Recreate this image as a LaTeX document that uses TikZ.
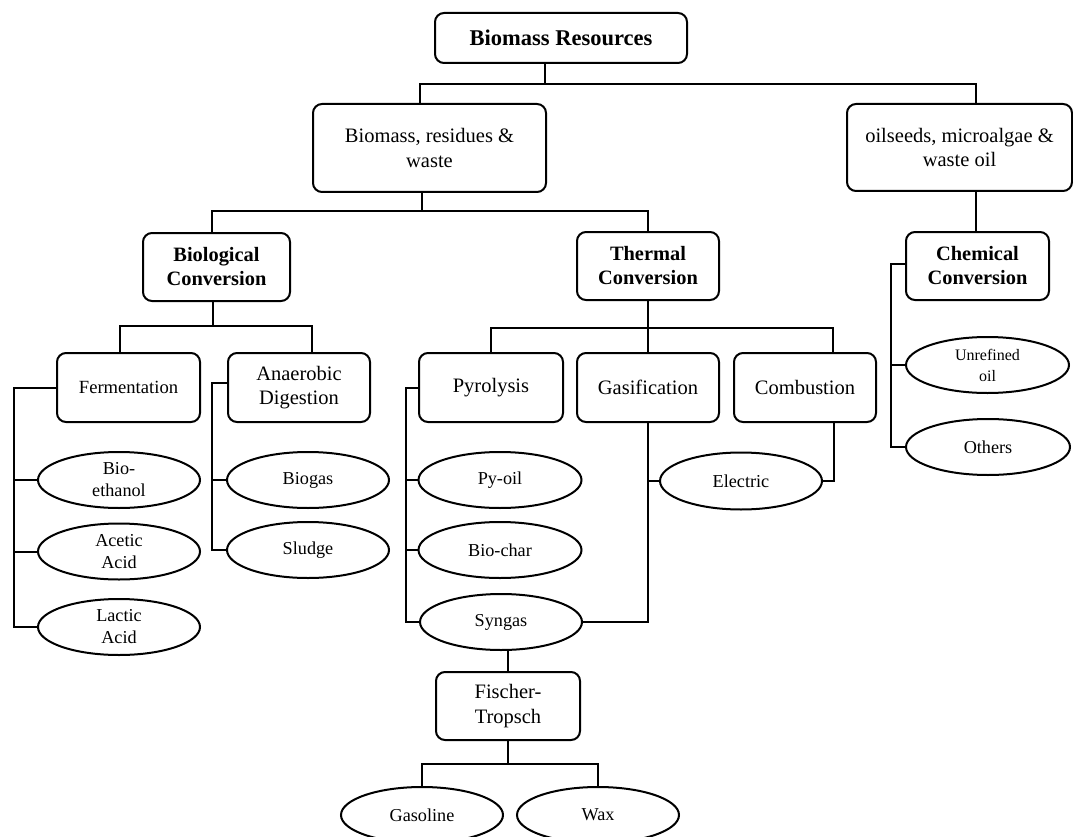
\documentclass[tikz,border=0pt]{standalone}
\usepackage{fontspec}
\setmainfont{Liberation Serif}
\usetikzlibrary{shapes.geometric}
% font sizes used in the chart
\newcommand\txttitle{\fontsize{22.5}{27}\selectfont\bfseries}
\newcommand\txtbig{\fontsize{20.5}{24.5}\selectfont}
\newcommand\txthead{\fontsize{20.4}{24}\selectfont\bfseries}
\newcommand\txtmid{\fontsize{18.6}{22}\selectfont}
\newcommand\txtoval{\fontsize{18.2}{22}\selectfont}
\newcommand\txtsmall{\fontsize{16}{21}\selectfont}
\begin{document}
\begin{tikzpicture}[x=1pt,y=-1pt,line width=2pt,
  box/.style={draw,rounded corners=9pt,inner sep=0pt,align=center,
    minimum width=142pt,minimum height=69pt,font=\txtbig},
  oval/.style={draw,ellipse,inner sep=0pt,align=center,
    minimum width=162pt,minimum height=56pt,font=\txtoval}]
\useasboundingbox (0,0) rectangle (1073,837);

% --- boxes ---
\node[box,minimum width=252pt,minimum height=50pt,font=\txttitle] (res) at (561,38) {Biomass Resources};
\node[box,minimum width=233pt,minimum height=88pt] (brw) at (429.5,148) {Biomass, residues \&\\waste};
\node[box,minimum width=225pt,minimum height=87pt] (oil) at (959.5,147.5) {oilseeds, microalgae \&\\waste oil};
\node[box,minimum width=147pt,minimum height=68pt,font=\txthead] (bio) at (216.5,267) {Biological\\Conversion};
\node[box,minimum height=68pt,font=\txthead] (thm) at (648,266) {Thermal\\Conversion};
\node[box,minimum width=143pt,minimum height=68pt,font=\txthead] (chm) at (977.5,266) {Chemical\\Conversion};
\node[box,minimum width=143pt,font=\txtmid] (fer) at (128.5,387.5) {Fermentation};
\node[box] (ana) at (299,387.5) {Anaerobic\\Digestion};
\node[box,minimum width=144pt] (pyr) at (491,387.5) {Pyrolysis};
\node[box] (gas) at (648,387.5) {Gasification};
\node[box] (com) at (805,387.5) {Combustion};
\node[box,minimum width=144pt,minimum height=68pt] (ft) at (508,706) {Fischer-\\Tropsch};

% --- products ---
\node[oval] (eth) at (119,480) {Bio-\\ethanol};
\node[oval] (ace) at (119,551.5) {Acetic\\Acid};
\node[oval] (lac) at (119,627) {Lactic\\Acid};
\node[oval] (bgs) at (308,480) {Biogas};
\node[oval] (slu) at (308,550) {Sludge};
\node[oval,minimum width=163pt] (pyo) at (500,480) {Py-oil};
\node[oval,minimum width=163pt] (chr) at (500,550) {Bio-char};
\node[oval] (syn) at (501,622) {Syngas};
\node[oval,minimum height=57pt] (ele) at (741,481) {Electric};
\node[oval,minimum width=163pt,font=\txtsmall] (unr) at (987.5,365) {Unrefined\\oil};
\node[oval,minimum width=164pt] (oth) at (988,447) {Others};
\node[oval] (gsl) at (422,815) {Gasoline};
\node[oval] (wax) at (598,815) {Wax};

% --- junction points ---
\coordinate (b0) at (545,84);  \coordinate (bL) at (420,84);  \coordinate (bR) at (976,84);
\coordinate (c0) at (422,211); \coordinate (cL) at (212,211); \coordinate (cR) at (648,211);
\coordinate (d0) at (213,326); \coordinate (dL) at (120,326); \coordinate (dR) at (312,326);
\coordinate (e0) at (648,328); \coordinate (eL) at (491,328); \coordinate (eR) at (833,328);
\coordinate (fx) at (14,627);
\coordinate (ax) at (212,550);
\coordinate (px) at (406,622);
\coordinate (cx) at (891,447);
\coordinate (gL) at (422,764); \coordinate (gR) at (598,764);

% --- tree connectors ---
\draw (res.south -| b0) -- (b0);
\draw (brw.north -| bL) -- (bL) -- (bR) -- (oil.north -| bR);
\draw (brw.south -| c0) -- (c0);
\draw (bio.north -| cL) -- (cL) -- (cR) -- (thm.north);
\draw (oil.south -| bR) -- (chm.north -| bR);
\draw (bio.south -| d0) -- (d0);
\draw (fer.north -| dL) -- (dL) -- (dR) -- (ana.north -| dR);
\draw (thm.south) -- (e0) -- (gas.north);
\draw (pyr.north) -- (eL) -- (eR) -- (com.north -| eR);

% --- side branches to products ---
\draw (fer.west) -| (fx) -- (lac.west);
\draw (eth.west) -- (eth.west -| fx);
\draw (ace.west) -- (ace.west -| fx);
\draw ([yshift=4.5pt]ana.west) -| (ax) -- (slu.west);
\draw (bgs.west) -- (bgs.west -| ax);
\draw (pyr.west) -| (px) -- (syn.west);
\draw (pyo.west) -- (pyo.west -| px);
\draw (chr.west) -- (chr.west -| px);
\draw (gas.south) |- (syn.east);
\draw (ele.west) -- (ele.west -| gas.south);
\draw ([xshift=29pt]com.south) |- (ele.east);
\draw ([yshift=2pt]chm.west) -| (cx) -- (oth.west);
\draw (unr.west) -- (unr.west -| cx);

% --- Fischer-Tropsch products ---
\draw (syn.south -| ft.north) -- (ft.north);
\draw (ft.south) -- (ft.south |- gL);
\draw (gsl.north) -- (gL) -- (gR) -- (wax.north);
\end{tikzpicture}
\end{document}
